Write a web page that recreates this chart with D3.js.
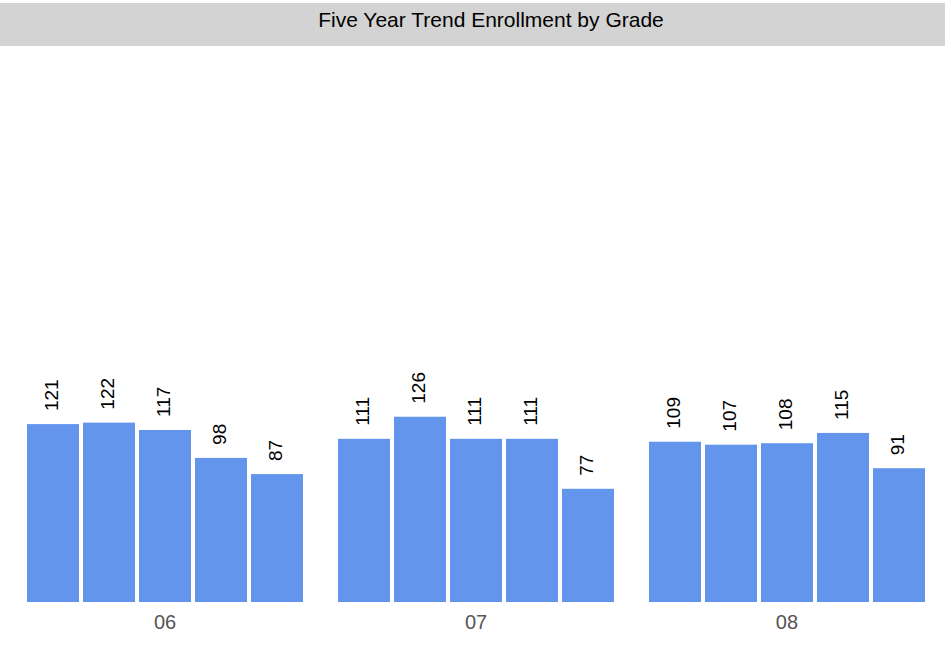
<!DOCTYPE html>
<html>
<head>
<meta charset="utf-8">
<script src="https://cdn.jsdelivr.net/npm/d3@7"></script>
<style>
  body { margin: 0; background: #fff; }
  text { font-family: "Liberation Sans", Arial, sans-serif; }
</style>
</head>
<body>
<div id="chart"></div>
<script>
const width = 951;
const height = 645;

// grades on the x axis, five years per grade
const grades = ["06", "07", "08"];
const years = ["Y1", "Y2", "Y3", "Y4", "Y5"];
const grade06 = [121, 122, 117, 98, 87];
const grade07 = [111, 126, 111, 111, 77];
const grade08 = [109, 107, 108, 115, 91];

const data = grades.map((g, i) => ({
  grade: g,
  values: [grade06, grade07, grade08][i].map((v, j) => ({year: years[j], value: v}))
}));

const svg = d3.select('#chart')
  .append('svg')
  .attr('width', width)
  .attr('height', height);

// title band
svg.append('rect')
  .attr('x', 0)
  .attr('y', 3)
  .attr('width', 945)
  .attr('height', 43)
  .attr('fill', '#d3d3d3');

svg.append('text')
  .attr('x', 491)
  .attr('y', 21)
  .attr('text-anchor', 'middle')
  .attr('dominant-baseline', 'middle')
  .attr('font-size', 21)
  .attr('fill', '#000')
  .text('Five Year Trend Enrollment by Grade');

const baseline = 602;

const y = d3.scaleLinear()
  .domain([0, 370])
  .range([baseline, 58]);

const x0 = d3.scaleBand()
  .domain(grades)
  .range([27, 925])
  .paddingInner(0.1125)
  .paddingOuter(0);

const x1 = d3.scaleBand()
  .domain(years)
  .range([0, x0.bandwidth()])
  .paddingInner(0.0714)
  .paddingOuter(0);

const groups = svg.selectAll('.grade')
  .data(data)
  .enter()
  .append('g')
    .attr('class', 'grade')
    .attr('transform', d => 'translate(' + x0(d.grade) + ',0)');

groups.selectAll('rect')
  .data(d => d.values)
  .enter()
  .append('rect')
    .attr('x', d => x1(d.year))
    .attr('y', d => y(d.value))
    .attr('width', x1.bandwidth())
    .attr('height', d => baseline - y(d.value))
    .attr('fill', '#6495ed');

// value labels, rotated
groups.selectAll('.label')
  .data(d => d.values)
  .enter()
  .append('text')
    .attr('class', 'label')
    .attr('transform', d => 'translate(' + (x1(d.year) + x1.bandwidth() / 2) + ',' + (y(d.value) - 13) + ') rotate(-90)')
    .attr('dominant-baseline', 'middle')
    .attr('font-size', 19)
    .attr('fill', '#000')
    .text(d => d.value);

// x axis labels only
const xAxis = d3.axisBottom(x0).tickSize(0).tickPadding(13);
const gx = svg.append('g')
  .attr('transform', 'translate(0,' + baseline + ')')
  .call(xAxis);
gx.select('.domain').remove();
gx.selectAll('text')
  .attr('font-size', 20)
  .attr('font-family', '"Liberation Sans", Arial, sans-serif')
  .attr('fill', '#555');
</script>
</body>
</html>
